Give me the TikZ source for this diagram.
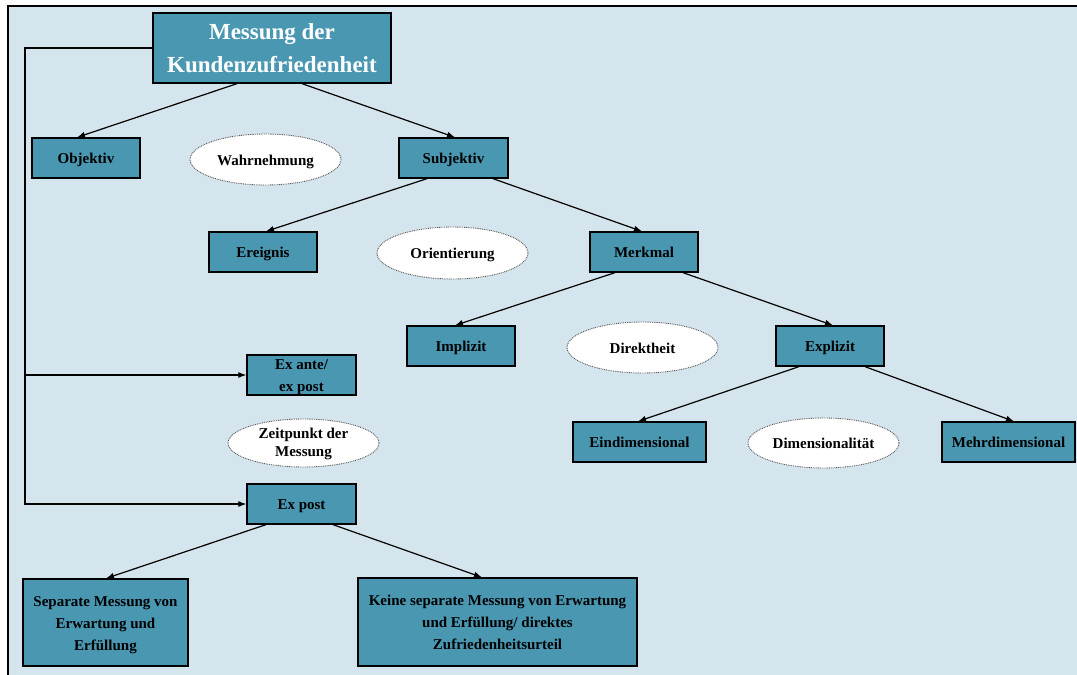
\documentclass[tikz,border=0pt]{standalone}
\usepackage{fontspec}
\setmainfont{Liberation Serif}
\usetikzlibrary{arrows.meta,shapes.geometric}
\definecolor{paneblue}{HTML}{D4E5ED}
\definecolor{boxblue}{HTML}{4A97B2}
% centred block of lines; it takes no room of its own, so the
% shape size comes from the minimum width/height alone
\newcommand\boxtext[2][5pt]{\raisebox{-#1}[0pt][0pt]{\begin{tabular}{@{}c@{}}#2\end{tabular}}}
\begin{document}
\begin{tikzpicture}[x=1pt,y=-1pt,
  box/.style={draw=black, line width=1.3pt, fill=boxblue, inner sep=0pt,
    minimum width=108pt, minimum height=40pt,
    font=\fontsize{15}{22}\selectfont\bfseries},
  oval/.style={ellipse, draw=black!65, fill=white, line width=0.9pt,
    dash pattern=on 0.9pt off 0.9pt, inner sep=0pt,
    minimum width=151pt, minimum height=51pt,
    font=\fontsize{15}{22}\selectfont\bfseries},
  link/.style={line width=1.2pt, -{Latex[length=8pt,width=6pt]}}]
\useasboundingbox (0,0) rectangle (1077,675);
% panel
\fill[paneblue] (8,6) rectangle (1077,675);
\draw[line width=2pt] (8,675) -- (8,6) -- (1077,6);

% title
\node[box, minimum width=238pt, minimum height=70pt, text=white,
  font=\fontsize{23}{33}\selectfont\bfseries] (title) at (272,48)
  {\boxtext[7.5pt]{Messung der\\Kundenzufriedenheit}};

% boxes
\node[box] (obj)   at (86,158)    {\boxtext{Objektiv}};
\node[box, minimum width=109pt] (subj) at (453.5,158) {\boxtext{Subjektiv}};
\node[box] (ereig) at (263,252)   {\boxtext{Ereignis}};
\node[box] (merk)  at (644,252)   {\boxtext{Merkmal}};
\node[box] (impl)  at (461,346)   {\boxtext{Implizit}};
\node[box] (expl)  at (830,346)   {\boxtext{Explizit}};
\node[box, minimum width=133pt] (eind) at (639.5,442) {\boxtext{Eindimensional}};
\node[box, minimum width=133pt] (mehr) at (1008.5,442) {\boxtext{Mehrdimensional}};
\node[box, minimum width=109pt] (exante) at (301.5,375) {\boxtext{Ex ante/\\ex post}};
\node[box, minimum width=109pt] (expost) at (301.5,504) {\boxtext{Ex post}};
\node[box, minimum width=165pt, minimum height=87pt] (sep) at (105.5,622.5)
  {\boxtext{Separate Messung von\\Erwartung und\\Erfüllung}};
\node[box, minimum width=279pt, minimum height=88pt] (keine) at (497.5,622)
  {\boxtext{Keine separate Messung von Erwartung\\und Erfüllung/ direktes\\Zufriedenheitsurteil}};

% criteria ellipses
\node[oval] (wahr)   at (265.5,159.5) {\boxtext{Wahrnehmung}};
\node[oval, minimum height=52pt] (orient) at (452.5,253) {\boxtext{Orientierung}};
\node[oval] (direkt) at (642.5,347.5) {\boxtext{Direktheit}};
\node[oval, minimum height=50pt] (dimens) at (823.5,443) {\boxtext{Dimensionalität}};
\node[oval, minimum height=48pt, font=\fontsize{15}{18}\selectfont\bfseries]
  (zeit) at (303.5,443) {\boxtext[4pt]{Zeitpunkt der\\Messung}};

% tree connectors
\draw[link] ([xshift=-35pt]title.south) -- ([xshift=-9pt]obj.north);
\draw[link] ([xshift=30pt]title.south) -- ([xshift=1.5pt]subj.north);
\draw[link] ([xshift=-26.5pt]subj.south) -- ([xshift=3pt]ereig.north);
\draw[link] ([xshift=39.5pt]subj.south) -- ([xshift=-2pt]merk.north);
\draw[link] ([xshift=-29pt]merk.south) -- ([xshift=-6pt]impl.north);
\draw[link] ([xshift=39pt]merk.south) -- ([xshift=3pt]expl.north);
\draw[link] ([xshift=-31pt]expl.south) -- ([xshift=-1.5pt]eind.north);
\draw[link] ([xshift=35pt]expl.south) -- ([xshift=5.5pt]mehr.north);
\draw[link] ([xshift=-35.5pt]expost.south) -- ([xshift=0.5pt]sep.north);
\draw[link] ([xshift=31.5pt]expost.south) -- ([xshift=-15.5pt]keine.north);

% time-of-measurement branch along the left side
\coordinate (rail) at (25,0);
\draw[link] (title.west) -- (title.west -| rail) -- (expost.west -| rail) -- (expost.west);
\draw[link] (exante.west -| rail) -- (exante.west);
\end{tikzpicture}
\end{document}
